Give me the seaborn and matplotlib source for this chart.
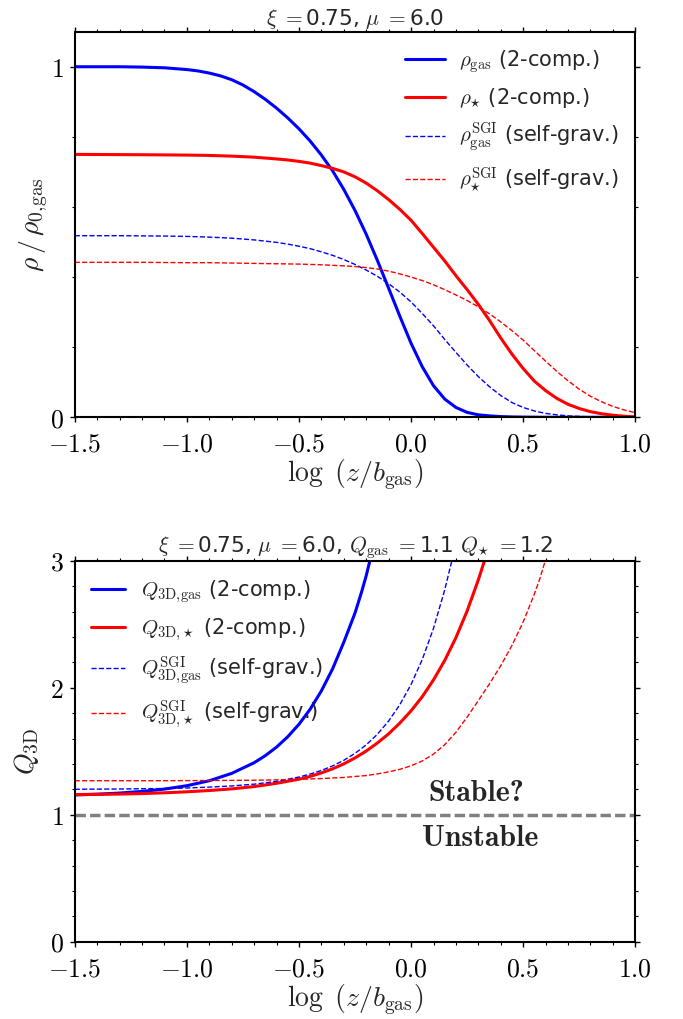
import numpy as np
import matplotlib
matplotlib.use("Agg")
import matplotlib.pyplot as plt
from matplotlib.ticker import MultipleLocator, FixedLocator
import seaborn as sns

# ---------------- density profiles (upper panel) ----------------
x_rho_gas = [-1.5, -1.4, -1.3, -1.2, -1.1, -1.0, -0.95, -0.9, -0.85, -0.8, -0.75, -0.7,
             -0.65, -0.6, -0.55, -0.5, -0.45, -0.4, -0.35, -0.3, -0.25, -0.2, -0.15, -0.1,
             -0.05, 0.0, 0.05, 0.1, 0.15, 0.2, 0.25, 0.3, 0.35, 0.4, 0.45, 0.5, 0.6, 0.8, 1.0]
rho_gas = [1.000, 1.000, 1.000, 0.999, 0.997, 0.992, 0.988, 0.982, 0.974, 0.963, 0.948, 0.929,
           0.907, 0.882, 0.854, 0.823, 0.788, 0.748, 0.703, 0.650, 0.590, 0.522, 0.447, 0.368,
           0.288, 0.211, 0.144, 0.090, 0.052, 0.028, 0.014, 0.007, 0.004, 0.002, 0.001, 0.0005,
           0.0, 0.0, 0.0]

x_rho_star = [-1.5, -1.2, -1.0, -0.9, -0.8, -0.7, -0.6, -0.55, -0.5, -0.45, -0.4, -0.35,
              -0.3, -0.25, -0.2, -0.15, -0.1, -0.05, 0.0, 0.05, 0.1, 0.15, 0.2, 0.25, 0.3,
              0.35, 0.4, 0.45, 0.5, 0.55, 0.6, 0.65, 0.7, 0.75, 0.8, 0.85, 0.9, 0.95, 1.0]
rho_star = [0.750, 0.749, 0.748, 0.747, 0.745, 0.742, 0.737, 0.734, 0.730, 0.725, 0.718, 0.710,
            0.700, 0.686, 0.668, 0.646, 0.621, 0.593, 0.562, 0.524, 0.485, 0.446, 0.404, 0.364,
            0.322, 0.276, 0.226, 0.180, 0.139, 0.103, 0.076, 0.054, 0.037, 0.025, 0.016, 0.010,
            0.006, 0.003, 0.001]

x_rho_gas_sgi = [-1.5, -1.3, -1.1, -1.0, -0.9, -0.8, -0.7, -0.6, -0.55, -0.5, -0.45, -0.4,
                 -0.35, -0.3, -0.25, -0.2, -0.15, -0.1, -0.05, 0.0, 0.05, 0.1, 0.15, 0.2,
                 0.25, 0.3, 0.35, 0.4, 0.45, 0.5, 0.55, 0.6, 0.65, 0.7, 0.8, 0.9, 1.0]
rho_gas_sgi = [0.518, 0.518, 0.517, 0.516, 0.514, 0.511, 0.506, 0.499, 0.494, 0.488, 0.481,
               0.472, 0.462, 0.450, 0.436, 0.420, 0.402, 0.381, 0.357, 0.329, 0.296, 0.261,
               0.222, 0.185, 0.149, 0.116, 0.087, 0.062, 0.042, 0.028, 0.018, 0.011, 0.007,
               0.004, 0.001, 0.0, 0.0]

x_rho_star_sgi = [-1.5, -1.2, -1.0, -0.9, -0.8, -0.7, -0.6, -0.5, -0.4, -0.3, -0.25, -0.2,
                  -0.15, -0.1, -0.05, 0.0, 0.05, 0.1, 0.15, 0.2, 0.25, 0.3, 0.35, 0.4, 0.45,
                  0.5, 0.55, 0.6, 0.65, 0.7, 0.75, 0.8, 0.85, 0.9, 0.95, 1.0]
rho_star_sgi = [0.442, 0.442, 0.441, 0.441, 0.440, 0.439, 0.438, 0.437, 0.435, 0.432, 0.430,
                0.427, 0.423, 0.417, 0.409, 0.400, 0.390, 0.378, 0.364, 0.349, 0.333, 0.315,
                0.295, 0.272, 0.247, 0.220, 0.190, 0.160, 0.131, 0.104, 0.080, 0.060, 0.044,
                0.031, 0.021, 0.013]

# ---------------- 3D stability parameter (lower panel) ----------------
x_q_gas = [-1.5, -1.4, -1.3, -1.2, -1.1, -1.0, -0.9, -0.8, -0.7, -0.65, -0.6, -0.55, -0.5,
           -0.45, -0.4, -0.35, -0.3, -0.25, -0.22, -0.2, -0.184]
q_gas = [1.156, 1.162, 1.171, 1.184, 1.202, 1.229, 1.268, 1.326, 1.410, 1.466, 1.533, 1.615,
         1.713, 1.832, 1.976, 2.150, 2.360, 2.590, 2.760, 2.885, 3.0]

x_q_star = [-1.5, -1.4, -1.3, -1.2, -1.1, -1.0, -0.9, -0.8, -0.7, -0.6, -0.5, -0.45, -0.4,
            -0.35, -0.3, -0.25, -0.2, -0.15, -0.1, -0.05, 0.0, 0.05, 0.1, 0.15, 0.2, 0.25,
            0.3, 0.327]
q_star = [1.159, 1.161, 1.163, 1.167, 1.173, 1.181, 1.191, 1.204, 1.222, 1.248, 1.280, 1.302,
          1.330, 1.362, 1.401, 1.448, 1.502, 1.566, 1.638, 1.723, 1.819, 1.931, 2.063, 2.216,
          2.396, 2.606, 2.852, 3.0]

x_q_gas_sgi = [-1.5, -1.4, -1.3, -1.2, -1.1, -1.0, -0.9, -0.8, -0.7, -0.6, -0.5, -0.45, -0.4,
               -0.35, -0.3, -0.25, -0.2, -0.15, -0.1, -0.05, 0.0, 0.05, 0.1, 0.15, 0.1815]
q_gas_sgi = [1.201, 1.202, 1.203, 1.205, 1.207, 1.211, 1.218, 1.227, 1.241, 1.263, 1.297, 1.321,
             1.349, 1.385, 1.429, 1.484, 1.551, 1.635, 1.739, 1.868, 2.027, 2.224, 2.469, 2.772,
             3.0]

x_q_star_sgi = [-1.5, -1.2, -1.0, -0.9, -0.8, -0.7, -0.6, -0.5, -0.4, -0.3, -0.2, -0.15, -0.1,
                -0.05, 0.0, 0.05, 0.1, 0.15, 0.2, 0.25, 0.3, 0.35, 0.4, 0.45, 0.5, 0.55,
                0.575, 0.598]
q_star_sgi = [1.268, 1.268, 1.269, 1.270, 1.271, 1.272, 1.275, 1.279, 1.285, 1.294, 1.309, 1.322,
              1.338, 1.358, 1.386, 1.424, 1.478, 1.552, 1.650, 1.770, 1.900, 2.033, 2.175, 2.335,
              2.520, 2.740, 2.865, 3.0]

x_major = [-1.5, -1.0, -0.5, 0.0, 0.5, 1.0]
y_major_top = [0, 1]
y_major_bottom = [0, 1, 2, 3]

# ---------------- style ----------------
sns.set_style("ticks")
plt.rcParams.update({
    "font.family": ["DejaVu Sans"],
    "mathtext.fontset": "cm",
    "axes.linewidth": 1.5,
    "xtick.direction": "out",
    "ytick.direction": "out",
    "xtick.major.size": 3.5,
    "ytick.major.size": 3.5,
    "xtick.minor.size": 2.2,
    "ytick.minor.size": 2.2,
    "xtick.major.width": 1.0,
    "ytick.major.width": 1.0,
    "xtick.minor.width": 0.8,
    "ytick.minor.width": 0.8,
    "xtick.color": "black",
    "ytick.color": "black",
    "axes.edgecolor": "black",
})

BLUE = "#0000ff"
RED = "#ff0000"

fig = plt.figure(figsize=(6.83, 10.19), dpi=100)
ax1 = fig.add_axes([0.1094, 0.5905, 0.8208, 0.3784])
ax2 = fig.add_axes([0.1094, 0.0759, 0.8208, 0.3736])


def style_axes(ax, yticks):
    ax.set_xlim(-1.5, 1.0)
    ax.xaxis.set_major_locator(FixedLocator(x_major))
    ax.xaxis.set_minor_locator(MultipleLocator(0.1))
    ax.yaxis.set_major_locator(FixedLocator(yticks))
    ax.yaxis.set_minor_locator(MultipleLocator(0.2))
    ax.set_xticklabels([rf"${v:.1f}$" for v in x_major], fontsize=18.5)
    ax.set_yticklabels([rf"${v:d}$" for v in yticks], fontsize=18.5)
    ax.tick_params(which="both", top=True, right=True)
    ax.tick_params(axis="x", which="major", pad=7)
    ax.tick_params(axis="y", which="major", pad=4.5)
    for s in ax.spines.values():
        s.set_visible(True)
        s.set_linewidth(1.5)
    ax.set_xlabel(r"$\log\ (z/b_{\rm gas})$", fontsize=20, labelpad=0)


# ---------------- upper panel ----------------
sns.lineplot(x=x_rho_gas, y=rho_gas, ax=ax1, color=BLUE, linewidth=2.2,
             label=r"$\rho_{\rm gas}$ (2-comp.)", estimator=None, sort=False)
sns.lineplot(x=x_rho_star, y=rho_star, ax=ax1, color=RED, linewidth=2.2,
             label=r"$\rho_{\star}$ (2-comp.)", estimator=None, sort=False)
sns.lineplot(x=x_rho_gas_sgi, y=rho_gas_sgi, ax=ax1, color=BLUE, linewidth=1.0,
             linestyle="--", label=r"$\rho_{\rm gas}^{\rm SGI}$ (self-grav.)",
             estimator=None, sort=False)
sns.lineplot(x=x_rho_star_sgi, y=rho_star_sgi, ax=ax1, color=RED, linewidth=1.0,
             linestyle="--", label=r"$\rho_{\star}^{\rm SGI}$ (self-grav.)",
             estimator=None, sort=False)
ax1.set_ylim(0, 1.1)
style_axes(ax1, y_major_top)
ax1.set_ylabel(r"$\rho\,/\,\rho_{0,\!{\rm gas}}$", fontsize=20, labelpad=0)
ax1.set_title(r"$\xi\ =$0.75, $\mu\ =$6.0", fontsize=15.5, pad=5)
ax1.legend(loc="upper right", frameon=False, fontsize=15, handlelength=1.9,
           handletextpad=0.7, labelspacing=0.55, borderaxespad=0.4)

# ---------------- lower panel ----------------
sns.lineplot(x=x_q_gas, y=q_gas, ax=ax2, color=BLUE, linewidth=2.2,
             label=r"$Q_{\rm 3D,\!gas}$ (2-comp.)", estimator=None, sort=False)
sns.lineplot(x=x_q_star, y=q_star, ax=ax2, color=RED, linewidth=2.2,
             label=r"$Q_{{\rm 3D},\!\star}$ (2-comp.)", estimator=None, sort=False)
sns.lineplot(x=x_q_gas_sgi, y=q_gas_sgi, ax=ax2, color=BLUE, linewidth=1.0,
             linestyle="--", label=r"$Q_{\rm 3D,\!gas}^{\rm SGI}$ (self-grav.)",
             estimator=None, sort=False)
sns.lineplot(x=x_q_star_sgi, y=q_star_sgi, ax=ax2, color=RED, linewidth=1.0,
             linestyle="--", label=r"$Q_{{\rm 3D},\!\star}^{\rm SGI}$ (self-grav.)",
             estimator=None, sort=False)
ax2.axhline(1.0, color="#808080", linewidth=2.5, linestyle=(0, (3.0, 1.2)), zorder=1)
ax2.set_ylim(0, 3)
style_axes(ax2, y_major_bottom)
ax2.set_ylabel(r"$Q_{\rm 3D}$", fontsize=20, labelpad=6)
ax2.set_title(r"$\xi\ =$0.75, $\mu\ =$6.0, $Q_{\rm gas}\ =$1.1 $Q_{\star}\ =$1.2",
              fontsize=15.5, pad=5)
ax2.text(0.29, 1.17, "Stable?", fontfamily="cmb10", fontsize=21.5,
         ha="center", va="center")
ax2.text(0.31, 0.815, "Unstable", fontfamily="cmb10", fontsize=21.5,
         ha="center", va="center")
ax2.legend(loc="upper left", frameon=False, fontsize=15, handlelength=1.6,
           handletextpad=0.8, labelspacing=0.55, borderaxespad=0.4)

fig.savefig("out.png", dpi=100)
